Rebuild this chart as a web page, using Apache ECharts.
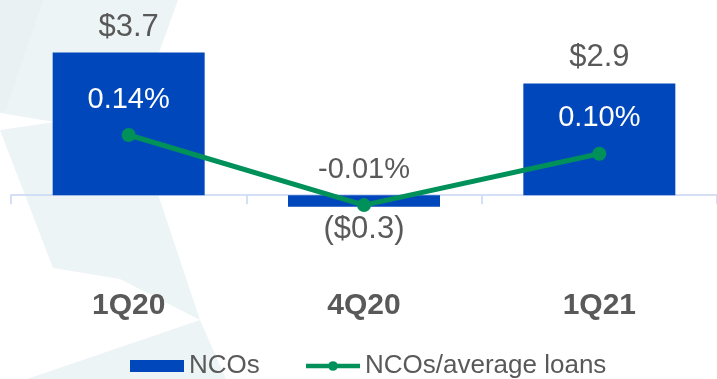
<!DOCTYPE html>
<html>
<head>
<meta charset="utf-8">
<script src="https://cdn.jsdelivr.net/npm/echarts@6/dist/echarts.min.js"></script>
<style>
  html, body { margin: 0; padding: 0; background: #ffffff; }
  #chart { width: 717px; height: 379px; }
</style>
</head>
<body>
<div id="chart"></div>
<script>
// Quarterly net charge-offs ($MM) and NCOs as a share of average loans (%)
const categories = ['1Q20', '4Q20', '1Q21'];
const ncos = [3.7, -0.3, 2.9];
const ncoRatio = [0.14, -0.01, 0.10];

const FONT = 'Arial, "Liberation Sans", sans-serif';
const GRAY = '#595959';
const BLUE = '#0047bb';
const GREEN = '#00915a';
const PALE = '#edf4f5';
const PALE_DARK = '#e9f1f3';
const AXIS_BLUE = '#c8d6f5';

const fmtDollar = v => v < 0 ? '($' + Math.abs(v).toFixed(1) + ')' : '$' + v.toFixed(1);
const fmtPct = v => v.toFixed(2) + '%';

// Negative bars carry their label underneath
const barData = ncos.map(v => ({
  value: v,
  label: { position: v < 0 ? 'bottom' : 'top', distance: v < 0 ? 7 : 10 }
}));

// Ratio labels sit inside positive bars (white), otherwise in gray
const lineData = ncoRatio.map((v, i) => ({
  value: v,
  label: { color: ncos[i] > 0 ? '#ffffff' : GRAY }
}));

const chart = echarts.init(document.getElementById('chart'), null, { renderer: 'canvas' });

chart.setOption({
  animation: false,
  backgroundColor: '#ffffff',
  textStyle: { fontFamily: FONT },
  // faint chevron watermark on the left
  graphic: [
    {
      type: 'polygon', z: -10, silent: true,
      shape: { points: [[0, 0], [178, 0], [134, 122], [200, 320], [120, 279], [53, 268], [0, 130], [55, 122], [0, 113]] },
      style: { fill: PALE }
    },
    {
      type: 'polygon', z: -9, silent: true,
      shape: { points: [[0, 0], [43, 0], [6, 110], [0, 112]] },
      style: { fill: PALE_DARK }
    },
    {
      type: 'polygon', z: -10, silent: true,
      shape: { points: [[200, 320], [226, 379], [27, 379]] },
      style: { fill: PALE }
    }
  ],
  grid: { left: 11, top: 41, width: 712, height: 212, containLabel: false },
  legend: {
    left: 125, top: 348,
    itemWidth: 54, itemHeight: 12, itemGap: 44,
    textStyle: { color: GRAY, fontSize: 26, fontFamily: FONT },
    lineStyle: { width: 4.5 },
    data: [
      { name: 'NCOs', icon: 'rect' },
      { name: 'NCOs/average loans' }
    ]
  },
  xAxis: {
    type: 'category',
    data: categories,
    boundaryGap: true,
    axisLine: { onZero: true, lineStyle: { color: AXIS_BLUE, width: 1.5 } },
    axisTick: { show: true, length: 9, lineStyle: { color: AXIS_BLUE, width: 1.5 } },
    axisLabel: { margin: 38, color: GRAY, fontSize: 30, fontWeight: 'bold', fontFamily: FONT }
  },
  yAxis: [
    { type: 'value', min: -1.5, max: 4, show: false },
    { type: 'value', min: -0.1126, max: 0.3413, show: false }
  ],
  series: [
    {
      name: 'NCOs',
      type: 'bar',
      yAxisIndex: 0,
      barWidth: 152,
      data: barData,
      itemStyle: { color: BLUE },
      label: {
        show: true,
        color: GRAY,
        fontSize: 31,
        fontFamily: FONT,
        formatter: p => fmtDollar(p.value)
      },
      z: 2
    },
    {
      name: 'NCOs/average loans',
      type: 'line',
      yAxisIndex: 1,
      data: lineData,
      symbol: 'circle',
      symbolSize: 14,
      lineStyle: { color: GREEN, width: 5 },
      itemStyle: { color: GREEN },
      label: {
        show: true,
        position: 'top',
        distance: 14,
        fontSize: 29,
        fontFamily: FONT,
        formatter: p => fmtPct(p.value)
      },
      z: 3
    }
  ]
});
</script>
</body>
</html>
